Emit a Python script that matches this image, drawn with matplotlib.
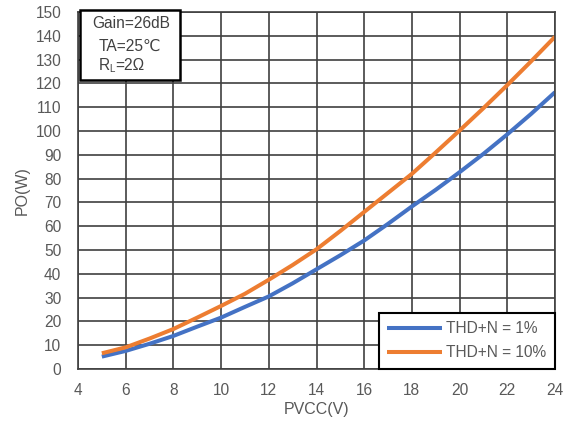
import matplotlib
matplotlib.use("Agg")
import matplotlib.pyplot as plt
from matplotlib.patches import Rectangle

plt.rcParams['font.family'] = ['Liberation Sans', 'DejaVu Sans']

pvcc = [5, 6, 7, 8, 9, 10, 11, 12, 13, 14, 15, 16, 17, 18, 19, 20, 21, 22, 23, 24]
po_thd1 = [5.2, 7.6, 10.6, 13.9, 17.8, 21.6, 26.1, 30.5, 36.0, 41.9, 47.8, 54.0,
           61.0, 68.3, 75.3, 82.7, 90.4, 98.6, 107.2, 116.3]
po_thd10 = [6.6, 9.1, 12.8, 16.8, 21.6, 26.5, 31.6, 37.5, 43.7, 50.3, 58.0, 66.0,
            74.0, 82.0, 91.0, 100.2, 109.6, 119.3, 129.3, 139.6]
series_labels = ["THD+N = 1%", "THD+N = 10%"]
xticks = list(range(4, 25, 2))
yticks = list(range(0, 151, 10))

W, H = 573, 425
fig = plt.figure(figsize=(W / 100, H / 100), dpi=100)
ax = fig.add_axes([78 / W, 1 - 369 / H, (555 - 78) / W, (369 - 12) / H])

grid_c = '#404040'
txt_c = '#595959'
fs = 11.2
ax.set_xlim(4, 24)
ax.set_ylim(0, 150)
ax.set_xticks(xticks)
ax.set_yticks(yticks)
ax.grid(True, color=grid_c, linewidth=1.2)
ax.set_axisbelow(True)
for s in ax.spines.values():
    s.set_color(grid_c)
    s.set_linewidth(1.2)
ax.tick_params(length=0, labelsize=fs, labelcolor=txt_c)
ax.tick_params(axis='y', pad=12)
ax.tick_params(axis='x', pad=10)

ax.plot(pvcc, po_thd1, color='#4472C4', linewidth=2.9, label=series_labels[0],
        solid_capstyle='butt', solid_joinstyle='round')
ax.plot(pvcc, po_thd10, color='#ED7D31', linewidth=2.9, label=series_labels[1],
        solid_capstyle='butt', solid_joinstyle='round')

ax.set_xlabel('PVCC(V)', fontsize=fs + 0.3, color=txt_c, labelpad=3)
ax.set_ylabel('PO(W)', fontsize=fs + 0.3, color=txt_c, labelpad=4)

leg = ax.legend(loc='lower right', bbox_to_anchor=(1.0, 0.0), fontsize=fs,
                frameon=True, fancybox=False, borderaxespad=0.0,
                handlelength=3.5, handletextpad=0.3, labelspacing=0.6,
                borderpad=0.55)
leg.get_frame().set_edgecolor('black')
leg.get_frame().set_linewidth(1.5)
leg.get_frame().set_alpha(1)
for t in leg.get_texts():
    t.set_color(txt_c)

# annotation box
box = Rectangle((80 / W, 1 - 80 / H), 100 / W, 70 / H, transform=fig.transFigure,
                facecolor='white', edgecolor='black', linewidth=1.8, zorder=5)
fig.patches.append(box)
ac = '#404040'
fig.text(92 / W, 1 - 24 / H, 'Gain=26dB', fontsize=fs, color=ac, va='center', ha='left', zorder=6)
fig.text(99 / W, 1 - 46 / H, 'TA=25\u2103', fontsize=fs, color=ac, va='center', ha='left', zorder=6)
fig.text(99 / W, 1 - 66 / H, 'R', fontsize=fs, color=ac, va='center', ha='left', zorder=6)
fig.text(109 / W, 1 - 68.5 / H, 'L', fontsize=7, color=ac, va='center', ha='left', zorder=6)
fig.text(115 / W, 1 - 66 / H, '=2\u03a9', fontsize=fs, color=ac, va='center', ha='left', zorder=6)

fig.savefig('out.png', dpi=100)
